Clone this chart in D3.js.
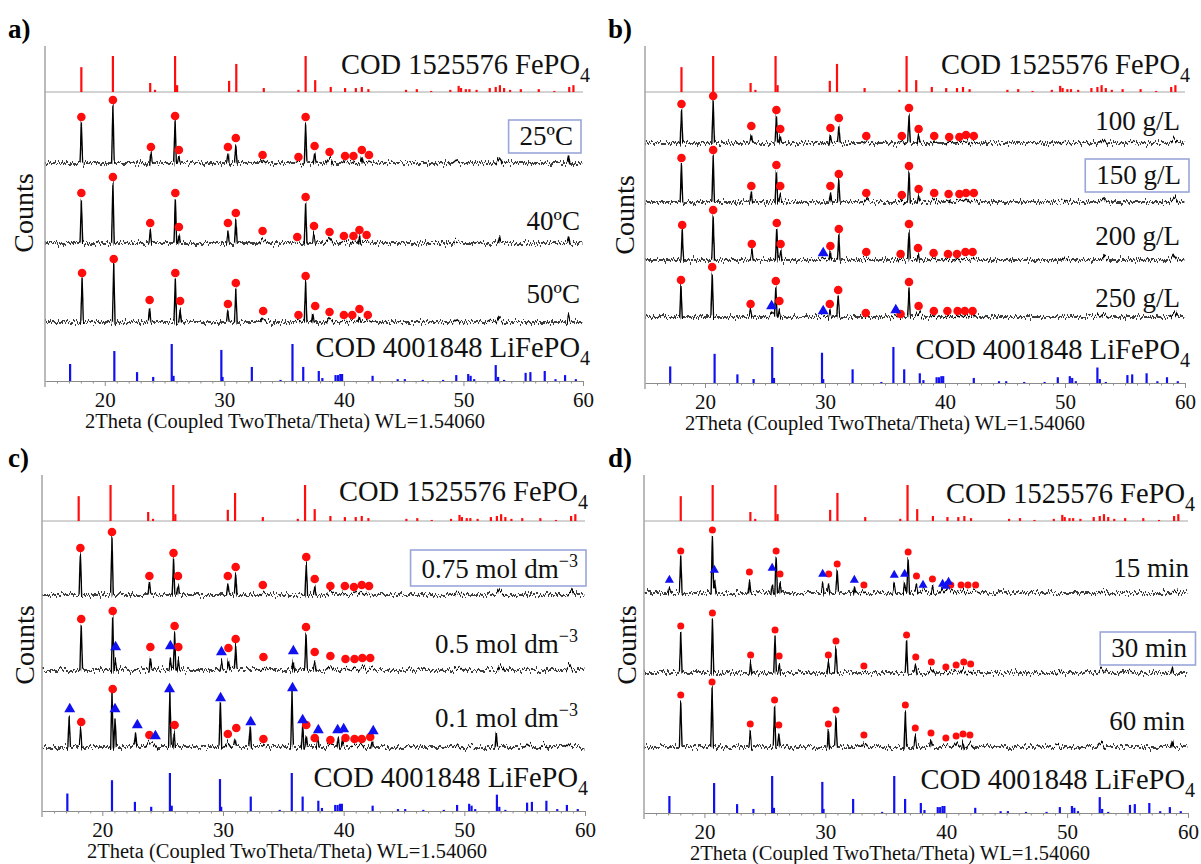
<!DOCTYPE html>
<html><head><meta charset="utf-8">
<script src="https://cdn.jsdelivr.net/npm/d3@7"></script>
<style>
body{margin:0;background:#fff;}
svg{display:block;font-family:"Liberation Serif","Times New Roman",serif;}
</style></head><body>
<svg id="chart" width="1201" height="864"></svg>
<script>
// ---------------- DATA ----------------
// Reference patterns: [2theta, relative intensity %]
const fepo4Ref = [[18.04,69],[20.68,100],[23.8,25],[24.2,6],[25.88,100],[26.05,19],[30.4,31],[31.0,78],[33.3,11],[36.2,6],[36.8,100],[37.6,33],[38.9,14],[40.1,11],[41.0,11],[41.5,14],[42.05,8],[45.2,6],[46.1,8],[47.3,3],[48.9,6],[49.6,17],[49.8,11],[50.2,8],[50.5,8],[51.1,6],[52.2,11],[52.7,14],[53.05,19],[53.4,11],[53.9,6],[54.8,8],[56.3,8],[57.6,3],[58.85,14],[59.2,19]];
const lifepo4Ref = [[17.1,46],[20.8,81],[22.7,24],[24.05,11],[25.6,100],[25.75,14],[29.75,84],[29.85,11],[32.3,38],[34.7,3],[35.7,100],[36.6,38],[37.9,27],[38.2,8],[39.3,16],[39.5,16],[39.7,19],[39.85,19],[42.4,14],[44.5,5],[45.1,5],[46.6,3],[48.3,3],[49.4,16],[50.4,19],[50.6,14],[50.9,5],[52.7,43],[52.9,11],[53.4,3],[55.2,22],[55.6,24],[56.8,27],[57.7,5],[58.5,16],[59.4,5]];
const fepo4Name = "COD 1525576 FePO";
const lifepo4Name = "COD 4001848 LiFePO";
const xTicks = [20,30,40,50,60];
const xTitle = "2Theta (Coupled TwoTheta/Theta) WL=1.54060";
const yTitle = "Counts";
const panelLetters = ["a)","b)","c)","d)"];

// Panel a: temperature
const tempLabels = ["25ºC","40ºC","50ºC"];
const a25Peaks = [[18.04,40],[20.68,57],[23.86,10],[25.88,42],[26.2,7],[30.3,10],[30.96,19],[33.2,3],[36.2,2],[36.8,40],[37.55,11],[38.8,5],[40.1,2],[40.8,2],[41.5,6],[42.1,2],[49.4,3],[53.0,5],[58.8,6]];
const a25Fe = [[18.04,46],[20.68,63],[23.86,16],[25.88,47],[26.2,13],[30.3,16],[30.96,25],[33.2,8],[36.2,6],[36.8,46],[37.55,17],[38.8,11],[40.1,7],[40.8,7],[41.5,13],[42.1,8]];
const a40Peaks = [[18.04,44],[20.68,60],[23.8,13],[25.9,44],[26.2,9],[30.3,13],[30.96,23],[33.2,4],[36.1,2],[36.8,40],[37.5,10],[38.8,5],[40.0,2],[40.8,2],[41.3,6],[41.9,2],[49.4,3],[53.0,6],[58.8,6]];
const a40Fe = [[18.04,50],[20.68,66],[23.8,20],[25.9,50],[26.2,16],[30.3,20],[30.96,30],[33.2,12],[36.1,6],[36.8,46],[37.5,17],[38.8,11],[40.0,7],[40.8,7],[41.3,13],[41.9,8]];
const a50Peaks = [[18.1,43],[20.75,57],[23.75,15],[25.9,43],[26.3,12],[30.3,11],[30.96,32],[33.25,4],[36.2,2],[36.8,40],[37.4,9],[38.8,4],[40.0,2],[40.7,2],[41.3,6],[42.0,2],[49.4,3],[52.2,2],[53.0,5],[58.8,7]];
const a50Fe = [[18.1,49],[20.75,63],[23.75,22],[25.9,49],[26.3,21],[30.3,18],[30.96,39],[33.25,11],[36.2,7],[36.8,46],[37.6,16],[38.8,10],[40.0,7],[40.7,7],[41.3,13],[42.0,7]];

// Panel b: concentration g/L
const gLabels = ["100 g/L","150 g/L","200 g/L","250 g/L"];
const b100Peaks = [[18.04,33],[20.68,42],[23.86,10],[25.95,27],[26.27,7],[30.45,8],[31.15,19],[33.44,2],[36.4,2],[37.0,29],[37.8,8],[39.1,2],[40.35,1],[41.2,1],[41.75,2],[42.4,1],[49.9,2],[53.2,4],[55.6,2],[59.1,5]];
const b100Fe = [[18.04,39],[20.68,47],[23.86,17],[25.95,33],[26.27,14],[30.45,15],[31.15,25],[33.44,7],[36.4,7],[37.0,35],[37.8,14],[39.1,7],[40.35,6],[41.2,6],[41.75,8],[42.4,7]];
const b150Peaks = [[18.04,38],[20.68,46],[23.86,10],[25.95,31],[26.27,9],[30.45,10],[31.15,22],[33.44,3],[36.4,1],[37.0,30],[37.8,7],[39.1,3],[40.3,2],[41.2,2],[41.75,3],[42.4,3],[49.9,2],[53.2,4],[59.1,5]];
const b150Fe = [[18.04,44],[20.68,52],[23.86,16],[25.95,37],[26.27,16],[30.45,16],[31.15,28],[33.44,9],[36.4,7],[37.0,36],[37.8,13],[39.1,9],[40.3,8],[41.2,8],[41.75,9],[42.4,9]];
const b200Peaks = [[18.1,29],[20.68,44],[23.9,10],[25.98,31],[26.3,9],[29.85,2],[30.45,8],[31.15,25],[33.44,2],[36.3,1],[37.0,30],[37.75,6],[39.05,2],[40.25,1],[41.0,1],[41.7,2],[42.3,2],[50.0,2],[53.3,4],[59.1,5]];
const b200Fe = [[18.1,35],[20.68,50],[23.9,16],[25.98,37],[26.3,16],[30.45,14],[31.15,31],[33.44,8],[36.3,6],[37.0,36],[37.75,12],[39.05,7],[40.25,6],[41.0,6],[41.7,8],[42.3,8]];
const b200Li = [[29.85,7]];
const b250Peaks = [[18.0,31],[20.6,44],[23.8,7],[25.55,5],[25.9,30],[26.2,9],[29.85,2],[30.4,7],[31.1,21],[33.4,1],[35.9,2],[36.3,1],[37.0,29],[37.8,5],[39.07,1],[40.2,1],[41.0,1],[41.6,1],[42.2,1],[52.7,3],[53.3,3],[59.1,5]];
const b250Fe = [[18.0,37],[20.6,50],[23.8,13],[25.9,36],[26.2,16],[30.4,13],[31.1,27],[33.4,4],[36.3,3],[37.0,35],[37.8,11],[39.07,6],[40.2,6],[41.05,6],[41.65,6],[42.3,6]];
const b250Li = [[25.55,11],[29.85,6],[35.9,7]];

// Panel c: concentration mol dm-3
const molValues = ["0.75","0.5","0.1"];
const molUnit = " mol dm";
const molExp = "−3";
const c075Peaks = [[18.18,41],[20.8,57],[23.9,12],[25.9,36],[26.27,10],[30.4,11],[31.05,22],[33.3,3],[36.9,32],[37.6,9],[38.9,3],[40.1,2],[40.85,2],[41.5,3],[42.1,2],[49.5,3],[53.0,5],[58.8,5]];
const c075Fe = [[18.18,47],[20.8,63],[23.9,19],[25.9,42],[26.27,19],[30.4,19],[31.05,28],[33.3,10],[36.9,38],[37.6,16],[38.9,9],[40.1,9],[40.85,8],[41.5,10],[42.1,9]];
const c05Peaks = [[18.25,45],[20.86,53],[21.1,10],[23.98,12],[25.64,12],[25.99,37],[26.3,10],[29.87,9],[30.45,10],[31.05,25],[33.35,3],[35.83,9],[36.88,37],[37.6,9],[38.9,4],[40.15,2],[40.9,2],[41.55,3],[42.2,2],[49.5,3],[53.0,5],[58.7,5]];
const c05Fe = [[18.25,51],[20.86,59],[23.98,23],[25.99,44],[26.3,23],[30.45,22],[31.05,31],[33.35,13],[36.88,43],[37.6,18],[38.9,14],[40.15,11],[40.9,11],[41.55,12],[42.2,12]];
const c05Li = [[21.1,23],[25.64,24],[29.87,18],[35.83,19]];
const c01Peaks = [[17.25,30],[18.2,19],[20.8,54],[21.05,28],[22.75,15],[23.9,5],[24.3,4],[25.6,54],[25.95,14],[29.78,45],[30.4,5],[31.0,8],[32.25,20],[33.3,2],[35.72,55],[36.6,20],[36.9,12],[37.85,11],[38.9,3],[39.55,10],[39.9,8],[40.9,3],[41.5,3],[42.35,6],[49.4,3],[50.5,2],[52.65,14],[55.3,3],[56.6,3],[58.6,3]];
const c01Fe = [[18.25,25],[20.86,58],[23.9,12],[25.99,22],[30.4,13],[31.1,19],[33.35,8],[36.9,22],[37.6,9],[38.9,7],[40.15,9],[40.9,8],[41.5,8],[42.2,10]];
const c01Li = [[17.3,38],[21.05,38],[22.9,22],[24.4,11],[25.57,58],[29.8,49],[32.3,25],[35.76,59],[36.6,27],[37.9,17],[39.5,17],[40.0,18],[42.45,16]];

// Panel d: time
const timeLabels = ["15 min","30 min","60 min"];
const d15Peaks = [[17.1,7],[18.04,37],[20.66,57],[20.85,12],[23.72,13],[25.6,10],[25.93,37],[26.25,10],[29.78,11],[30.28,9],[30.98,24],[32.4,7],[33.19,3],[35.7,9],[36.56,10],[36.85,35],[37.54,9],[38.08,3],[38.86,7],[39.7,4],[40.2,5],[40.38,2],[41.23,2],[41.8,2],[42.43,2],[52.9,3],[58.9,3]];
const d15Fe = [[18.04,42],[20.66,63],[23.72,21],[25.93,42],[26.25,19],[30.28,19],[30.98,29],[33.19,8],[36.85,41],[37.54,17],[38.86,14],[40.38,8],[41.23,8],[41.8,8],[42.43,8]];
const d15Li = [[17.1,13],[20.82,23],[25.6,25],[29.78,19],[32.4,13],[35.7,18],[36.56,19],[38.08,8],[39.7,9],[39.97,7],[40.19,11]];
const d30Peaks = [[18.04,41],[20.66,54],[23.82,11],[25.84,37],[26.18,9],[30.25,11],[30.88,26],[33.19,2],[36.72,32],[37.48,9],[38.77,4],[39.97,1],[40.82,2],[41.45,4],[42.02,2],[49.4,3],[52.9,4],[55.1,2],[58.7,6]];
const d30Fe = [[18.04,47],[20.66,60],[23.82,18],[25.84,43],[26.18,17],[30.25,18],[30.88,32],[33.19,7],[36.72,38],[37.48,16],[38.77,11],[39.97,6],[40.82,8],[41.45,11],[42.02,9]];
const d60Peaks = [[18.04,46],[20.63,59],[23.79,15],[25.8,41],[26.15,14],[30.25,15],[30.88,30],[33.19,4],[36.62,35],[37.44,12],[38.74,7],[39.97,2],[40.82,4],[41.39,6],[41.96,4],[49.2,2],[52.8,5],[58.7,6]];
const d60Fe = [[18.04,52],[20.63,65],[23.79,23],[25.8,47],[26.15,22],[30.25,23],[30.88,37],[33.19,12],[36.62,42],[37.44,19],[38.74,14],[39.97,9],[40.82,11],[41.39,13],[41.96,12]];

// ---------------- LAYOUT ----------------
const panels = [
 {letter:0, lx:8, ly:38, x0:45, x1:583, top:46, axisY:381, redBase:92, redMax:36, blueMax:37, cx:33, cy:213, titleX:85, refX:590, feY:74, liY:357, r:4.3, tri:52,
  traces:[{peaks:a25Peaks, fe:a25Fe, li:[], label:[tempLabels[0]], base:163, tx:573, ty:145, box:true},
          {peaks:a40Peaks, fe:a40Fe, li:[], label:[tempLabels[1]], base:243, tx:580, ty:230},
          {peaks:a50Peaks, fe:a50Fe, li:[], label:[tempLabels[2]], base:322, tx:580, ty:303}]},
 {letter:1, lx:608, ly:38, x0:645, x1:1185, top:46, axisY:383, redBase:92, redMax:36, blueMax:36, cx:634, cy:215, titleX:685, refX:1190, feY:74, liY:359, r:4.3, tri:52,
  traces:[{peaks:b100Peaks, fe:b100Fe, li:[], label:[gLabels[0]], base:143, tx:1180, ty:130},
          {peaks:b150Peaks, fe:b150Fe, li:[], label:[gLabels[1]], base:202, tx:1181, ty:184, box:true},
          {peaks:b200Peaks, fe:b200Fe, li:b200Li, label:[gLabels[2]], base:260, tx:1180, ty:245},
          {peaks:b250Peaks, fe:b250Fe, li:b250Li, label:[gLabels[3]], base:317, tx:1180, ty:307}]},
 {letter:2, lx:8, ly:467, x0:42, x1:585, top:475, axisY:811, redBase:521, redMax:36, blueMax:38, cx:34, cy:645, titleX:87, refX:588, feY:501, liY:787, r:4.3, tri:52,
  traces:[{peaks:c075Peaks, fe:c075Fe, li:[], label:[molValues[0]+molUnit, molExp], base:595, tx:578, ty:578, box:true},
          {peaks:c05Peaks, fe:c05Fe, li:c05Li, label:[molValues[1]+molUnit, molExp], base:670, tx:578, ty:653},
          {peaks:c01Peaks, fe:c01Fe, li:c01Li, label:[molValues[2]+molUnit, molExp], base:747, tx:578, ty:727}]},
 {letter:3, lx:608, ly:467, x0:644, x1:1188, top:475, axisY:813, redBase:521, redMax:36, blueMax:37, cx:636, cy:645, titleX:690, refX:1195, feY:503, liY:789, r:3.5, tri:36,
  traces:[{peaks:d15Peaks, fe:d15Fe, li:d15Li, label:[timeLabels[0]], base:593, tx:1189, ty:577},
          {peaks:d30Peaks, fe:d30Fe, li:[], label:[timeLabels[1]], base:673, tx:1187, ty:657, box:true},
          {peaks:d60Peaks, fe:d60Fe, li:[], label:[timeLabels[2]], base:747, tx:1185, ty:730}]}
];

const FONT = '"Liberation Serif","Times New Roman",serif';
const RED = "#ff0d0d", BLUE = "#1010f0", GRAY = "#8c8c8c";

const svg = d3.select("#chart");
const defs = svg.append("defs");
const flt = defs.append("filter").attr("id","grain").attr("filterUnits","userSpaceOnUse")
  .attr("x",0).attr("y",0).attr("width",1201).attr("height",864).attr("color-interpolation-filters","sRGB");
flt.append("feTurbulence").attr("type","fractalNoise").attr("baseFrequency","0.6 0.05").attr("numOctaves",2).attr("seed",7).attr("result","t");
flt.append("feColorMatrix").attr("in","t").attr("type","matrix")
  .attr("values","0 0 0 0 0.5  0 1 0 0 0  0 0 1 0 0  0 0 0 0 1").attr("result","m");
flt.append("feDisplacementMap").attr("in","SourceGraphic").attr("in2","m").attr("scale",11)
  .attr("xChannelSelector","R").attr("yChannelSelector","G");

function peakWidth(h){ return h < 6 ? 0.3 : 0.11; }
function vertices(peaks){
  const xs = new Set([15.05, 59.95]);
  peaks.forEach(([p,h])=>{const w=peakWidth(h); xs.add(p-w); xs.add(p); xs.add(p+w);});
  return [...xs].sort((a,b)=>a-b).map(xv=>[xv, d3.max(peaks, ([p,h])=>Math.max(0, h*(1-Math.abs(xv-p)/peakWidth(h))))]);
}

panels.forEach(P=>{
  const g = svg.append("g");
  const x = d3.scaleLinear().domain([15,60]).range([P.x0,P.x1]);
  const H = P.axisY - P.top;
  const y = d3.scaleLinear().domain([0,H]).range([P.axisY,P.top]);
  const redOff = P.axisY - P.redBase;

  // panel letter
  g.append("text").attr("x",P.lx).attr("y",P.ly).attr("font-size",27).attr("font-weight","bold").attr("fill","#000").text(panelLetters[P.letter]);

  // y axis line
  g.append("line").attr("x1",P.x0).attr("x2",P.x0).attr("y1",P.top).attr("y2",P.axisY+6).attr("stroke",GRAY).attr("stroke-width",1.2);
  // Counts
  g.append("text").attr("transform",`translate(${P.cx},${P.cy}) rotate(-90)`).attr("text-anchor","middle")
    .attr("font-size",28).attr("fill","#111").text(yTitle);

  // FePO4 reference
  g.append("line").attr("x1",x(15)).attr("x2",x(60)).attr("y1",y(redOff)).attr("y2",y(redOff)).attr("stroke","#a6a6a6").attr("stroke-width",1);
  g.append("g").selectAll("line").data(fepo4Ref).join("line")
    .attr("x1",d=>x(d[0])).attr("x2",d=>x(d[0]))
    .attr("y1",y(redOff)).attr("y2",d=>y(redOff + d[1]*P.redMax/100))
    .attr("stroke",RED).attr("stroke-width",2.2);
  const feT = g.append("text").attr("x",P.refX).attr("y",P.feY).attr("text-anchor","end").attr("font-size",28.5).attr("fill","#111");
  feT.append("tspan").text(fepo4Name);
  feT.append("tspan").attr("font-size",20).attr("dy",8).text("4");

  // LiFePO4 reference
  g.append("g").selectAll("line").data(lifepo4Ref).join("line")
    .attr("x1",d=>x(d[0])).attr("x2",d=>x(d[0]))
    .attr("y1",y(0)).attr("y2",d=>y(d[1]*P.blueMax/100))
    .attr("stroke",BLUE).attr("stroke-width",2.2);
  const liT = g.append("text").attr("x",P.refX).attr("y",P.liY).attr("text-anchor","end").attr("font-size",28.5).attr("fill","#111");
  liT.append("tspan").text(lifepo4Name);
  liT.append("tspan").attr("font-size",20).attr("dy",8).text("4");

  // x axis
  const minor = d3.range(16,60).filter(v=>v%10!==0);
  const axm = g.append("g").attr("transform",`translate(0,${P.axisY})`)
    .call(d3.axisBottom(x).tickValues(minor).tickSize(2.5).tickSizeOuter(0).tickFormat(""));
  axm.select(".domain").remove();
  axm.selectAll(".tick line").attr("stroke",GRAY);
  const ax = g.append("g").attr("transform",`translate(0,${P.axisY})`)
    .call(d3.axisBottom(x).tickValues(xTicks).tickSize(5).tickSizeOuter(0).tickPadding(6).tickFormat(d3.format("d")));
  ax.attr("font-family",FONT).attr("font-size",21);
  ax.select(".domain").attr("stroke",GRAY).attr("stroke-width",1.2);
  ax.selectAll(".tick line").attr("stroke",GRAY);
  ax.selectAll(".tick text").attr("fill","#111");
  g.append("text").attr("x",P.titleX).attr("y",P.axisY+47).attr("font-size",20.5).attr("fill","#111").text(xTitle);

  // sample traces
  const line = d3.line().x(d=>x(d[0])).y(d=>d[1]);
  const tg = g.append("g").attr("filter","url(#grain)");
  P.traces.forEach(T=>{
    const off = P.axisY - T.base;
    const pts = vertices(T.peaks).map(([a,b])=>[a, y(off+b)]);
    tg.append("path").attr("d",line(pts)).attr("fill","none").attr("stroke","#000").attr("stroke-width",1.4).attr("stroke-linejoin","round");
  });
  P.traces.forEach(T=>{
    const off = P.axisY - T.base;
    g.append("g").selectAll("circle").data(T.fe).join("circle")
      .attr("cx",d=>x(d[0])).attr("cy",d=>y(off+d[1])).attr("r",P.r).attr("fill",RED);
    g.append("g").selectAll("path").data(T.li).join("path")
      .attr("d",d3.symbol(d3.symbolTriangle,P.tri))
      .attr("transform",d=>`translate(${x(d[0])},${y(off+d[1])})`).attr("fill",BLUE);
    const lt = g.append("text").attr("x",T.tx).attr("y",T.ty).attr("text-anchor","end").attr("font-size",27).attr("fill","#111");
    lt.append("tspan").text(T.label[0]);
    if (T.label[1]) lt.append("tspan").attr("font-size",18).attr("dy",-11).text(T.label[1]);
    if (T.box){
      const bb = lt.node().getBBox();
      g.insert("rect","text").attr("x",bb.x-11).attr("y",bb.y-1).attr("width",bb.width+19).attr("height",bb.height+3)
        .attr("fill","#fff").attr("stroke","#9aa6d8").attr("stroke-width",1.6);
    }
  });
});
</script>
</body></html>
